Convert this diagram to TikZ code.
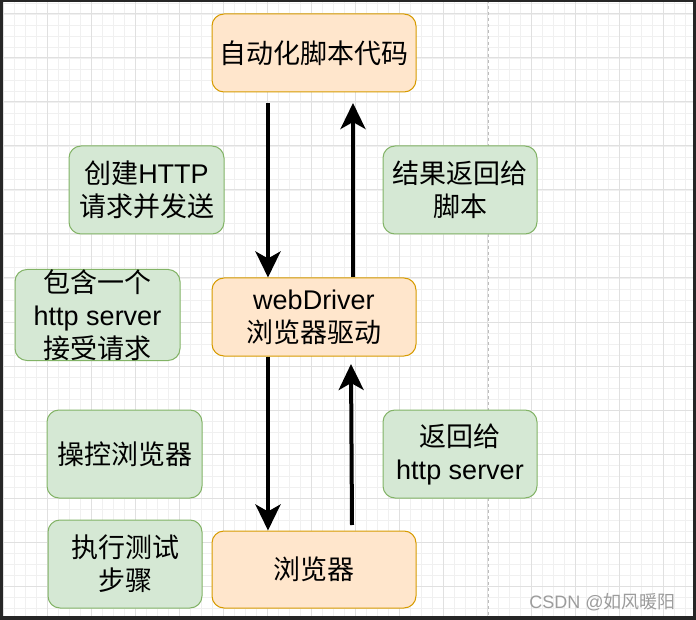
\documentclass[tikz,border=0pt]{standalone}
\usepackage{fontspec}
\setmainfont{Liberation Sans}
\newfontfamily\cjk{Noto Sans CJK SC}
\usetikzlibrary{arrows.meta,calc}
\definecolor{orfill}{HTML}{FFE6CC}
\definecolor{ordraw}{HTML}{D79B00}
\definecolor{grfill}{HTML}{D5E8D4}
\definecolor{grdraw}{HTML}{82B366}
\definecolor{gridminor}{HTML}{F0F0F0}
\definecolor{gridmajor}{HTML}{E0E0E0}
\definecolor{framecol}{HTML}{262626}
\definecolor{pageline}{HTML}{BDBDBD}
\definecolor{wmark}{HTML}{9C9C9C}
\begin{document}
\begin{tikzpicture}[x=1pt,y=-1pt,
  box/.style={rounded corners=12pt, line width=1pt, align=center, inner sep=0pt,
    font=\fontsize{27}{33}\selectfont, text=black},
  orbox/.style={box, fill=orfill, draw=ordraw},
  grbox/.style={box, fill=grfill, draw=grdraw},
  sz/.style n args={2}{minimum width=#1pt, minimum height=#2pt},
  flow/.style={line width=4pt, -{Stealth[length=26pt,width=25pt,inset=7pt]}}
]
\useasboundingbox (0,0) rectangle (696,620);
\fill[white] (0,0) rectangle (696,620);
% grid
\foreach \x in {3,14,...,696} \draw[gridminor, line width=0.8pt] (\x,0) -- (\x,620);
\foreach \y in {3,14,...,620} \draw[gridminor, line width=0.8pt] (0,\y) -- (696,\y);
\foreach \x in {3,47,...,696} \draw[gridmajor, line width=1pt] (\x,0) -- (\x,620);
\foreach \y in {14,58,...,620} \draw[gridmajor, line width=1pt] (0,\y) -- (696,\y);
\draw[pageline, line width=1pt, dash pattern=on 3pt off 3pt] (488,0) -- (488,620);
% frame
\fill[framecol] (0,0) rectangle (696,2);
\fill[framecol] (0,0) rectangle (3,620);
\fill[framecol] (693,0) rectangle (696,620);
\fill[framecol] (0,616) rectangle (696,620);

% main nodes
\node[orbox, sz={204}{78}] (script) at (314,53) {\cjk 自动化脚本代码};
\node[orbox, sz={204}{78}] (wd) at (314,317) {webDriver\\{\cjk 浏览器驱动}};
\node[orbox, sz={204}{77}] (br) at (314,569.5) {\cjk 浏览器};

% label nodes
\node[grbox, sz={155}{88}] (create) at (146.5,190) {{\cjk 创建}HTTP\\{\cjk 请求并发送}};
\node[grbox, sz={154}{88}] (result) at (460,190) {{\cjk 结果返回给}\\{\cjk 脚本}};
\node[grbox, sz={165}{90}] (contain) at (97.5,315) {{\cjk 包含一个}\\http server\\{\cjk 接受请求}};
\node[grbox, sz={155}{88}] (control) at (124.5,454) {\cjk 操控浏览器};
\node[grbox, sz={154}{88}] (ret) at (460,454) {{\cjk 返回给}\\http server};
\node[grbox, sz={154}{88}] (exec) at (125,564) {{\cjk 执行测试}\\{\cjk 步骤}};

% connectors
\coordinate (s1) at (268,103);
\coordinate (s2) at (353,103);
\coordinate (b2) at (352,525);
\coordinate (w2) at (351,364);
\draw[flow] (s1) -- (s1 |- wd.north);
\draw[flow] (s2 |- wd.north) -- (s2);
\draw[flow] (s1 |- wd.south) -- (s1 |- br.north);
\draw[flow] (b2) -- (w2);

% watermark
\node[text=wmark, font=\fontsize{18}{20}\selectfont, inner sep=0pt] (wm) at (602.5,602) {CSDN @{\cjk 如风暖阳}};
\end{tikzpicture}
\end{document}
